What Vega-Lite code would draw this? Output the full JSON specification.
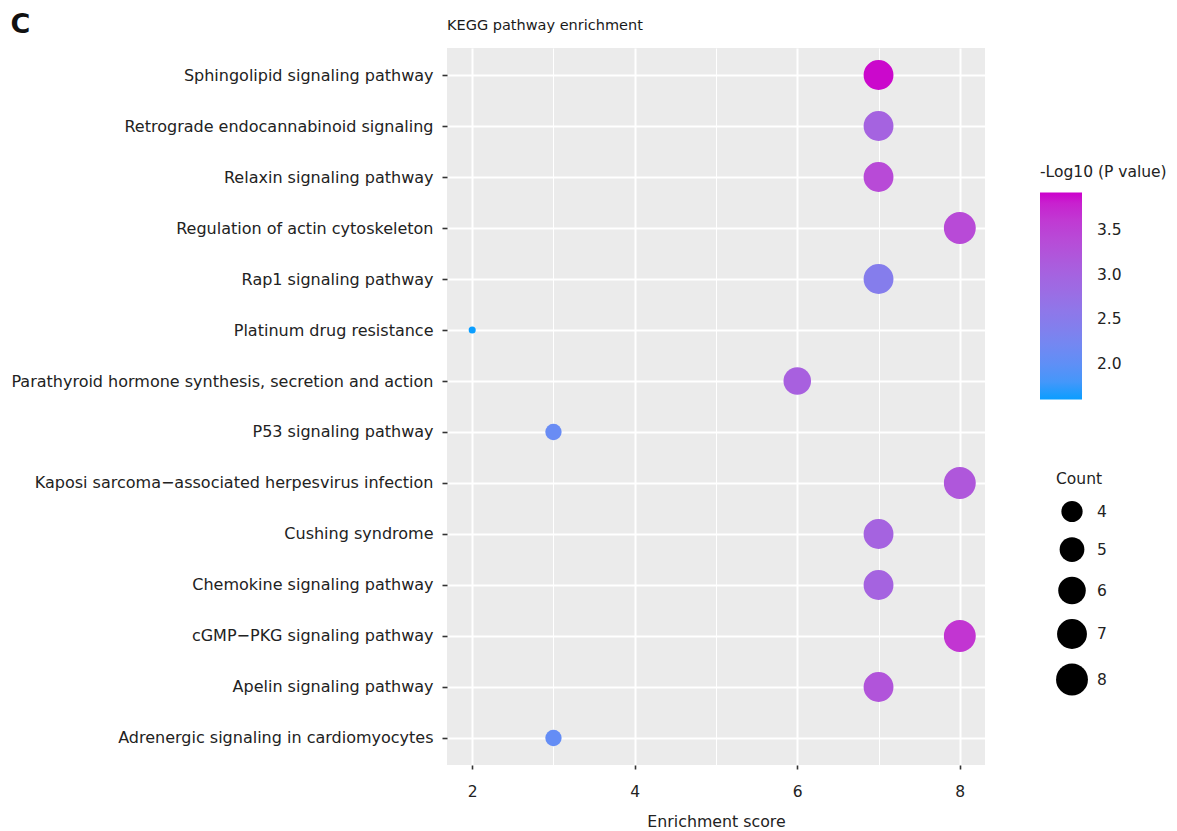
{
  "$schema": "https://vega.github.io/schema/vega-lite/v6.json",
  "width": 538,
  "height": 717,
  "autosize": {"type": "none"},
  "padding": {"left": 447, "top": 48, "right": 192, "bottom": 66},
  "background": "white",
  "title": {"text": "KEGG pathway enrichment", "anchor": "start", "frame": "group", "fontSize": 14.5, "fontWeight": "normal", "font": "DejaVu Sans", "color": "#1a1a1a", "offset": -23},
  "data": {"values": [
    {"pathway": "Sphingolipid signaling pathway", "score": 7, "count": 7, "logp": 3.9},
    {"pathway": "Retrograde endocannabinoid signaling", "score": 7, "count": 7, "logp": 3.0},
    {"pathway": "Relaxin signaling pathway", "score": 7, "count": 7, "logp": 3.4},
    {"pathway": "Regulation of actin cytoskeleton", "score": 8, "count": 8, "logp": 3.4},
    {"pathway": "Rap1 signaling pathway", "score": 7, "count": 7, "logp": 2.45},
    {"pathway": "Platinum drug resistance", "score": 2, "count": 2, "logp": 1.6},
    {"pathway": "Parathyroid hormone synthesis, secretion and action", "score": 6, "count": 6, "logp": 3.05},
    {"pathway": "P53 signaling pathway", "score": 3, "count": 3, "logp": 2.1},
    {"pathway": "Kaposi sarcoma−associated herpesvirus infection", "score": 8, "count": 8, "logp": 3.2},
    {"pathway": "Cushing syndrome", "score": 7, "count": 7, "logp": 3.0},
    {"pathway": "Chemokine signaling pathway", "score": 7, "count": 7, "logp": 3.0},
    {"pathway": "cGMP−PKG signaling pathway", "score": 8, "count": 8, "logp": 3.65},
    {"pathway": "Apelin signaling pathway", "score": 7, "count": 7, "logp": 3.25},
    {"pathway": "Adrenergic signaling in cardiomyocytes", "score": 3, "count": 3, "logp": 2.05}
  ]},
  "mark": {"type": "circle", "opacity": 1},
  "encoding": {
    "x": {"field": "score", "type": "quantitative",
      "scale": {"domain": [1.69, 8.31], "nice": false, "zero": false},
      "axis": {"values": [2, 3, 4, 5, 6, 7, 8], "labelExpr": "datum.value % 2 == 0 ? datum.label : ''",
        "title": "Enrichment score",
        "gridColor": "white",
        "gridWidth": {"condition": {"test": "datum.value % 2 == 1", "value": 1}, "value": 2},
        "tickOpacity": {"condition": {"test": "datum.value % 2 == 1", "value": 0}, "value": 1},
        "tickSize": 4, "labelPadding": 15, "labelFontSize": 15.5, "titleFontSize": 15.8, "titlePadding": 15}},
    "y": {"field": "pathway", "type": "nominal", "sort": null,
      "scale": {"type": "point", "padding": 0.53},
      "axis": {"title": "C", "titleAngle": 0, "titleX": -437, "titleY": -16, "titleAlign": "left", "titleBaseline": "alphabetic",
        "titleFontSize": 27, "titleFontWeight": "bold", "titleColor": "#111",
        "grid": true, "gridColor": "white", "gridWidth": 2, "tickSize": 5, "labelPadding": 9, "labelLimit": 0, "labelFontSize": 16}},
    "color": {"field": "logp", "type": "quantitative",
      "scale": {"domain": [1.6, 3.92], "range": ["#0A9EFF", "#CC00CC"], "interpolate": "lab"},
      "legend": {"title": "-Log10 (P value)", "values": [2, 2.5, 3, 3.5], "format": ".1f",
        "orient": "none", "legendX": 593, "legendY": 117,
        "gradientLength": 207, "gradientThickness": 42, "titlePadding": 12, "labelOffset": 15}},
    "size": {"field": "count", "type": "quantitative",
      "scale": {"type": "sqrt", "domain": [2, 8], "range": [50, 1018], "zero": false},
      "legend": {"title": "Count", "values": [4, 5, 6, 7, 8], "symbolFillColor": "black", "symbolStrokeWidth": 0,
        "symbolOpacity": 1, "orient": "none", "legendX": 609, "legendY": 424, "rowPadding": 14.5, "titlePadding": 13, "labelOffset": 9}}
  },
  "config": {
    "font": "DejaVu Sans",
    "view": {"fill": "#EBEBEB", "stroke": null},
    "axis": {"domain": false, "tickColor": "#333", "tickWidth": 1.6,
      "labelFont": "DejaVu Sans", "labelFontSize": 14.5, "labelColor": "#222",
      "titleFont": "DejaVu Sans", "titleFontSize": 15, "titleFontWeight": "normal", "titleColor": "#222"},
    "legend": {"titleFont": "DejaVu Sans", "titleFontSize": 15.5, "titleFontWeight": "normal", "titleColor": "#222",
      "labelFont": "DejaVu Sans", "labelFontSize": 15.5, "labelColor": "#222"}
  }
}
